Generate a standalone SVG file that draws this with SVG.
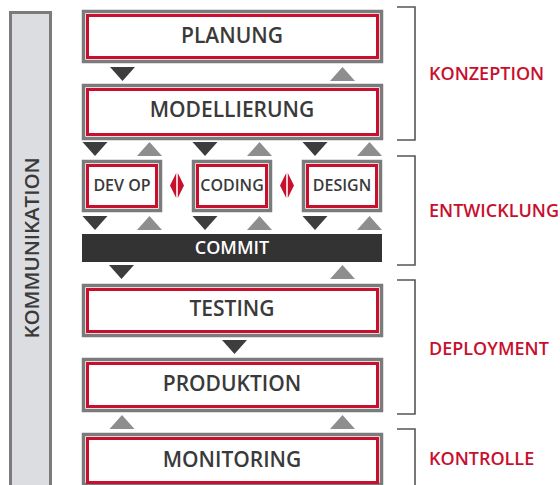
<svg xmlns="http://www.w3.org/2000/svg" width="560" height="485" viewBox="0 0 560 485">
<style>
.outer{fill:#fff;stroke:#7b7b7b;stroke-width:3.5}
.inner{fill:#fff;stroke:#c8102e;stroke-width:3}
.t{font-family:"Open Sans","Liberation Sans",sans-serif;font-weight:600;fill:#3a3a3a;text-anchor:middle}
.big{font-size:21px}
.small{font-size:16px}
.lab{font-family:"Open Sans","Liberation Sans",sans-serif;font-weight:600;font-size:18px;fill:#c8102e}
.dn{fill:#3d3d3d}
.up{fill:#8e8e8e}
.dia{fill:#c8102e}
.br{fill:none;stroke:#555;stroke-width:1.6}
</style>
<defs>
<path id="d" d="M-12.5 0 H12.5 L0 14 Z"/>
<path id="u" d="M-12.5 14 H12.5 L0 0 Z"/>
</defs>
<g id="kommunikation">
<rect x="10.5" y="12.5" width="40" height="474" fill="#dcdde0" stroke="#7b7b7b" stroke-width="3"/>
<text class="t" transform="translate(38.5,248) rotate(-90)" font-size="20.5">KOMMUNIKATION</text>
</g>
<g id="planung">
<rect class="outer" x="83.5" y="11.5" width="298" height="50"/>
<rect class="inner" x="87.5" y="15.5" width="290" height="42"/>
<text class="t big" x="232" y="43">PLANUNG</text>
</g>
<g id="modellierung">
<rect class="outer" x="83.5" y="85.5" width="298" height="53"/>
<rect class="inner" x="87.5" y="89.5" width="290" height="45"/>
<text class="t big" x="232" y="117">MODELLIERUNG</text>
</g>
<g id="devop">
<rect class="outer" x="83.5" y="161.5" width="77" height="49"/>
<rect class="inner" x="87.5" y="165.5" width="69" height="41"/>
<text class="t small" x="122" y="191">DEV OP</text>
</g>
<g id="coding">
<rect class="outer" x="193.5" y="161.5" width="77" height="49"/>
<rect class="inner" x="197.5" y="165.5" width="69" height="41"/>
<text class="t small" x="232" y="191">CODING</text>
</g>
<g id="design">
<rect class="outer" x="303.5" y="161.5" width="77" height="49"/>
<rect class="inner" x="307.5" y="165.5" width="69" height="41"/>
<text class="t small" x="342" y="191">DESIGN</text>
</g>
<g id="commit">
<rect x="82" y="234" width="300" height="28" fill="#333"/>
<text class="t" x="232" y="253.5" font-size="18" font-weight="700" style="fill:#fff">COMMIT</text>
</g>
<g id="testing">
<rect class="outer" x="83.5" y="285.5" width="298" height="50"/>
<rect class="inner" x="87.5" y="289.5" width="290" height="42"/>
<text class="t big" x="232" y="316">TESTING</text>
</g>
<g id="produktion">
<rect class="outer" x="83.5" y="359.5" width="298" height="51"/>
<rect class="inner" x="87.5" y="363.5" width="290" height="43"/>
<text class="t big" x="232" y="391">PRODUKTION</text>
</g>
<g id="monitoring">
<rect class="outer" x="83.5" y="434.5" width="298" height="50"/>
<rect class="inner" x="87.5" y="438.5" width="290" height="44"/>
<text class="t big" x="232" y="467">MONITORING</text>
</g>
<g id="connectors">
<use href="#d" class="dn" x="122.5" y="67"/>
<use href="#u" class="up" x="342.5" y="67"/>
<use href="#d" class="dn" x="95" y="142"/>
<use href="#u" class="up" x="149.5" y="142"/>
<use href="#d" class="dn" x="205" y="142"/>
<use href="#u" class="up" x="259.5" y="142"/>
<use href="#d" class="dn" x="315" y="142"/>
<use href="#u" class="up" x="369.5" y="142"/>
<use href="#d" class="dn" x="95" y="216"/>
<use href="#u" class="up" x="149.5" y="216"/>
<use href="#d" class="dn" x="205" y="216"/>
<use href="#u" class="up" x="259.5" y="216"/>
<use href="#d" class="dn" x="315" y="216"/>
<use href="#u" class="up" x="369.5" y="216"/>
<use href="#d" class="dn" x="121.5" y="265"/>
<use href="#u" class="up" x="342.5" y="265"/>
<use href="#d" class="dn" x="234.5" y="340"/>
<use href="#u" class="up" x="122" y="415"/>
<use href="#u" class="up" x="342.5" y="415"/>
<path class="dia" d="M176.2 173 L170 185.5 L176.2 198 Z M177.8 173 L184 185.5 L177.8 198 Z"/>
<path class="dia" d="M286.2 173 L280 185.5 L286.2 198 Z M287.8 173 L294 185.5 L287.8 198 Z"/>
</g>
<g id="phases">
<path class="br" d="M397 7 H415 V140 H397"/>
<path class="br" d="M397 156 H415 V265 H397"/>
<path class="br" d="M397 280 H415 V414 H397"/>
<path class="br" d="M397 429 H415 V490"/>
<text class="lab" x="429" y="80">KONZEPTION</text>
<text class="lab" x="429" y="217">ENTWICKLUNG</text>
<text class="lab" x="429" y="355">DEPLOYMENT</text>
<text class="lab" x="429" y="465">KONTROLLE</text>
</g>
</svg>
